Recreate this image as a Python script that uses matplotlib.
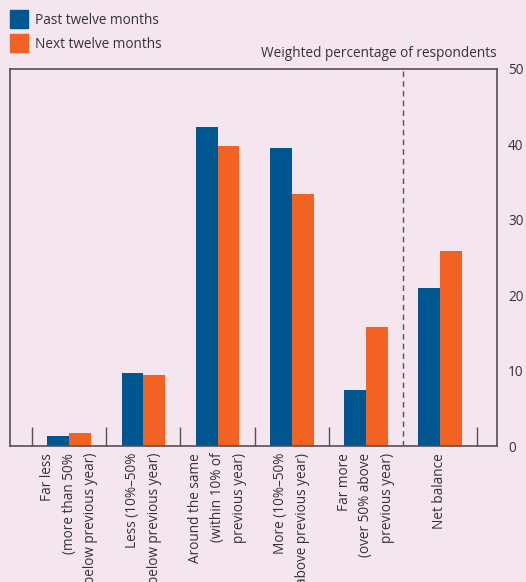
import matplotlib.pyplot as plt
import numpy as np
from matplotlib.patches import Rectangle

categories = [
    'Far less\n(more than 50%\nbelow previous year)',
    'Less (10%–50%\nbelow previous year)',
    'Around the same\n(within 10% of\nprevious year)',
    'More (10%–50%\nabove previous year)',
    'Far more\n(over 50% above\nprevious year)',
    'Net balance',
]
past = [1.3, 9.7, 42.3, 39.5, 7.4, 21.0]
future = [1.7, 9.4, 39.8, 33.4, 15.8, 25.9]

bg = '#F5E5EE'
blue = '#00568F'
orange = '#F26222'
edge = '#555055'
txt = '#333333'
fs = 9.8

plt.rcParams['font.family'] = ['Open Sans', 'DejaVu Sans']

fig = plt.figure(figsize=(5.26, 5.82), dpi=100, facecolor=bg)
ax = fig.add_axes([10 / 526, 1 - 446 / 582, 487 / 526, 377 / 582])
ax.set_facecolor(bg)

x = np.arange(len(categories))
w = 0.295
ax.bar(x - w / 2, past, w, color=blue)
ax.bar(x + w / 2, future, w, color=orange)

ax.set_xlim(-0.8, 5.77)
ax.set_ylim(0, 50)

# boundaries between groups, the last one dashed
bounds = np.arange(-0.5, 5.6, 1.0)
ax.set_xticks([b for b in bounds if abs(b - 4.5) > 0.01])
ax.set_xticklabels([])
ax.axvline(4.5, color=edge, lw=1, ls=(0, (4, 3)))
ax.tick_params(axis='x', direction='in', length=14, width=1, color=edge)

ax.yaxis.tick_right()
ax.set_yticks([0, 10, 20, 30, 40, 50])
ax.tick_params(axis='y', direction='in', length=14, width=1, color=edge,
               labelsize=fs, labelcolor=txt, pad=8)
for t in ax.yaxis.get_major_ticks():
    if t.get_loc() in (0, 50):
        t.tick2line.set_visible(False)

for s in ax.spines.values():
    s.set_color(edge)
    s.set_linewidth(1.2)

for xi, lab in zip(x, categories):
    ax.text(xi, -0.9, lab, rotation=90, ha='center', va='top',
            multialignment='right', fontsize=fs, color=txt,
            linespacing=1.6)

ax.text(1.0, 1.02, 'Weighted percentage of respondents', transform=ax.transAxes,
        ha='right', va='bottom', fontsize=fs, color=txt)

# legend swatches
fig.patches.append(Rectangle((10 / 526, 1 - 28 / 582), 18 / 526, 18 / 582,
                             transform=fig.transFigure, color=blue))
fig.patches.append(Rectangle((10 / 526, 1 - 52 / 582), 18 / 526, 18 / 582,
                             transform=fig.transFigure, color=orange))
fig.text(35 / 526, 1 - 20 / 582, 'Past twelve months', ha='left', va='center',
         fontsize=fs, color=txt)
fig.text(35 / 526, 1 - 44 / 582, 'Next twelve months', ha='left', va='center',
         fontsize=fs, color=txt)

fig.savefig('out.png', dpi=100, facecolor=bg)
